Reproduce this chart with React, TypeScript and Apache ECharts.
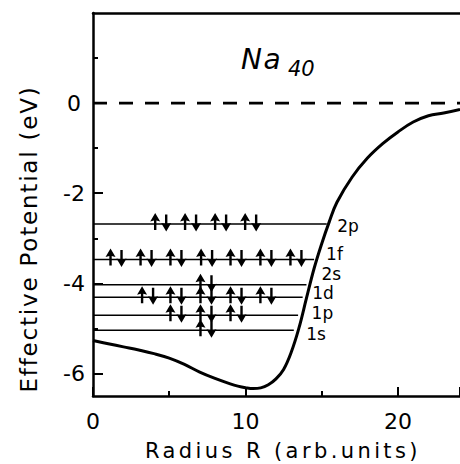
import React, { useEffect, useRef } from "react";
import * as echarts from "echarts";

// ---- data ----
const radius = [0, 1, 2, 3, 4, 5, 6, 7, 8, 9, 9.5, 10, 10.5, 11, 11.5, 12, 12.5, 13, 13.5, 14, 14.5, 15, 15.5, 16, 17, 18, 19, 20, 21, 22, 23, 24.07];
const potential = [-5.27, -5.34, -5.41, -5.48, -5.56, -5.66, -5.8, -5.97, -6.11, -6.23, -6.28, -6.315, -6.335, -6.32, -6.25, -6.12, -5.91, -5.53, -5.0, -4.33, -3.67, -3.12, -2.63, -2.2, -1.64, -1.22, -0.9, -0.64, -0.42, -0.28, -0.22, -0.14];

const levelNames = ["1s", "1p", "1d", "2s", "1f", "2p"];
const levelEnergies = [-5.04, -4.71, -4.31, -4.03, -3.47, -2.68];
const levelEnds = [13.17, 13.45, 13.75, 14.0, 14.5, 15.33];
const electronPairs = [
  [7.41],
  [5.44, 7.41, 9.38],
  [3.58, 5.44, 7.41, 9.38, 11.34],
  [7.41],
  [1.51, 3.48, 5.44, 7.45, 9.38, 11.34, 13.31],
  [4.44, 6.4, 8.37, 10.34],
];

const yTickValues = [0, -2, -4, -6];
const yMinorTickValues = [1, -1, -3, -5];
const xMin = 0;
const xMax = 24.07;
const yMin = -6.5;
const yMax = 2;

const titleMain = "Na";
const titleSub = "40";
const xTitle = "Radius R (arb.units)";
const yTitle = "Effective Potential (eV)";

// ---- styles ----
const FONT = '"DejaVu Sans", "Liberation Sans", Arial, sans-serif';
const labelPlacement: Record<string, { d: number; dy: number }> = {
  "1s": { d: 12, dy: 4 },
  "1p": { d: 13, dy: -2 },
  "1d": { d: 9, dy: -4 },
  "2s": { d: 14.5, dy: -11 },
  "1f": { d: 11.5, dy: -5 },
  "2p": { d: 10, dy: 2 },
};
const letterSpacing: Record<string, number> = {
  [yTitle]: 1.8,
  [xTitle]: 3.4,
  [titleMain]: 1.5,
};
const UP = "path://M5,0 L10,8.5 L6.2,7.5 L6.2,17 L3.8,17 L3.8,7.5 L0,8.5 Z";
const DOWN = "path://M5,17 L10,8.5 L6.2,9.5 L6.2,0 L3.8,0 L3.8,9.5 L0,8.5 Z";

export default function App() {
  const ref = useRef<HTMLDivElement>(null);

  useEffect(() => {
    if (!ref.current) return;
    const chart = echarts.init(ref.current, undefined, { renderer: "svg" });

    const levelSeries = levelNames.map((name, i) => ({
      type: "line",
      name,
      data: [
        [xMin, levelEnergies[i]],
        [levelEnds[i], levelEnergies[i]],
      ],
      symbol: "none",
      silent: true,
      lineStyle: { color: "#000", width: 1.5 },
      z: 2,
    }));

    const pairData: number[][] = [];
    electronPairs.forEach((pairs, i) => {
      pairs.forEach((r) => pairData.push([r, levelEnergies[i]]));
    });

    const labelData = levelNames.map((name, i) => ({
      name,
      value: [levelEnds[i], levelEnergies[i]],
      label: {
        show: true,
        position: "right",
        distance: labelPlacement[name].d,
        offset: [0, labelPlacement[name].dy],
        formatter: name,
        color: "#000",
        opacity: 1,
        fontSize: 17,
        fontFamily: FONT,
      },
    }));

    chart.setOption({
      animation: false,
      backgroundColor: "#fff",
      grid: { left: 93, top: 13, right: 0, bottom: 68 },
      xAxis: [
        {
          type: "value",
          min: xMin,
          max: xMax,
          interval: 10,
          position: "bottom",
          axisLine: { show: true, onZero: false, lineStyle: { color: "#000", width: 2.5 } },
          axisTick: { show: true, inside: true, length: 9, lineStyle: { color: "#000", width: 2 } },
          minorTick: { show: true, splitNumber: 2, length: 5, lineStyle: { color: "#000", width: 2 } },
          axisLabel: { color: "#000", fontSize: 22, fontFamily: FONT, margin: 14, showMaxLabel: false },
          splitLine: { show: false },
          minorSplitLine: { show: false },
        },
        {
          type: "value",
          min: xMin,
          max: xMax,
          position: "top",
          axisLine: { show: true, onZero: false, lineStyle: { color: "#000", width: 2.5 } },
          axisTick: { show: false },
          axisLabel: { show: false },
          splitLine: { show: false },
        },
      ],
      yAxis: [
        {
          type: "value",
          min: yMin,
          max: yMax,
          position: "left",
          axisLine: { show: true, onZero: false, lineStyle: { color: "#000", width: 2.5 } },
          axisTick: {
            show: true,
            inside: true,
            length: 10,
            customValues: yTickValues,
            lineStyle: { color: "#000", width: 2 },
          },
          axisLabel: {
            customValues: yTickValues,
            color: "#000",
            fontSize: 22,
            fontFamily: FONT,
            align: "center",
            margin: 19,
          },
          splitLine: { show: false },
        },
        {
          type: "value",
          min: yMin,
          max: yMax,
          position: "left",
          axisLine: { show: false },
          axisTick: {
            show: true,
            inside: true,
            length: 5,
            customValues: yMinorTickValues,
            lineStyle: { color: "#000", width: 2 },
          },
          axisLabel: { show: false },
          splitLine: { show: false },
        },
      ],
      series: [
        {
          type: "line",
          name: "zero",
          data: [
            [xMin, 0],
            [xMax, 0],
          ],
          symbol: "none",
          silent: true,
          lineStyle: { color: "#000", width: 2.8, type: [14, 12] },
          z: 2,
        },
        ...levelSeries,
        {
          type: "line",
          name: "potential",
          data: radius.map((r, i) => [r, potential[i]]),
          symbol: "none",
          smooth: 0.4,
          silent: true,
          lineStyle: { color: "#000", width: 3 },
          z: 3,
        },
        {
          type: "scatter",
          name: "up",
          data: pairData,
          symbol: UP,
          symbolSize: [10, 17],
          symbolOffset: [-5.5, -2.5],
          silent: true,
          itemStyle: { color: "#000", opacity: 1 },
          z: 4,
        },
        {
          type: "scatter",
          name: "down",
          data: pairData,
          symbol: DOWN,
          symbolSize: [10, 17],
          symbolOffset: [5.5, -1],
          silent: true,
          itemStyle: { color: "#000", opacity: 1 },
          z: 4,
        },
        {
          type: "scatter",
          name: "labels",
          data: labelData,
          symbolSize: 1,
          silent: true,
          itemStyle: { color: "rgba(0,0,0,0)", opacity: 1 },
          z: 5,
        },
      ],
      graphic: [
        {
          type: "text",
          x: 29,
          y: 239,
          rotation: Math.PI / 2,
          style: {
            text: yTitle,
            font: `23px ${FONT}`,
            fill: "#000",
            align: "center",
            verticalAlign: "middle",
          },
        },
        {
          type: "text",
          x: 283,
          y: 451,
          style: {
            text: xTitle,
            font: `21px ${FONT}`,
            fill: "#000",
            align: "center",
            verticalAlign: "middle",
          },
        },
        {
          type: "text",
          x: 241,
          y: 59,
          style: {
            text: titleMain,
            font: `italic 28px ${FONT}`,
            fill: "#000",
            align: "left",
            verticalAlign: "middle",
          },
        },
        {
          type: "text",
          x: 288,
          y: 69,
          style: {
            text: titleSub,
            font: `italic 21px ${FONT}`,
            fill: "#000",
            align: "left",
            verticalAlign: "middle",
          },
        },
      ],
    });

    // emulate the wide tracking of the original lettering
    ref.current.querySelectorAll("text").forEach((t) => {
      const s = letterSpacing[(t.textContent || "").trim()];
      if (s) t.setAttribute("letter-spacing", String(s));
    });

    return () => chart.dispose();
  }, []);

  return (
    <div
      ref={ref}
      style={{ position: "absolute", left: 0, top: 0, width: 460, height: 464, background: "#fff" }}
    />
  );
}
